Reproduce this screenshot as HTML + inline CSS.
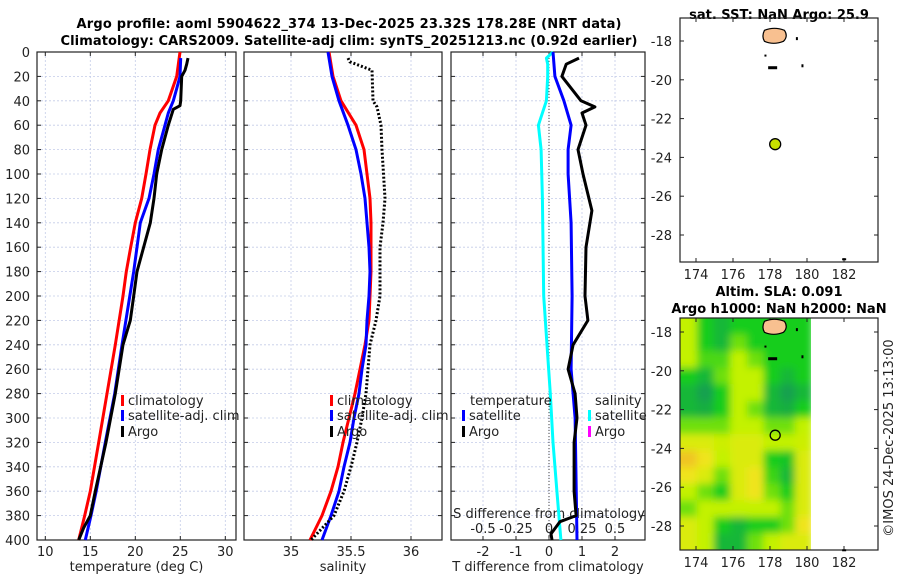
<!DOCTYPE html>
<html><head><meta charset="utf-8"><style>
body{margin:0;background:#fff;}
svg text{font-family:"DejaVu Sans","Liberation Sans",sans-serif;font-size:13px;fill:#222;}
.b{font-weight:bold;fill:#000;font-size:13px;}
</style></head><body>
<svg id="c" width="900" height="580" viewBox="0 0 900 580" xmlns="http://www.w3.org/2000/svg">
<defs><filter id="bl" x="-10%" y="-10%" width="120%" height="120%"><feGaussianBlur stdDeviation="4"/></filter>
<clipPath id="hc"><rect x="680" y="318" width="131" height="232"/></clipPath></defs>
<text class="b" x="349" y="28" text-anchor="middle" textLength="545">Argo profile: aoml 5904622_374 13-Dec-2025 23.32S 178.28E (NRT data)</text>
<text class="b" x="349" y="45" text-anchor="middle" textLength="577">Climatology: CARS2009. Satellite-adj clim: synTS_20251213.nc (0.92d earlier)</text>
<text class="b" x="779" y="19" text-anchor="middle">sat. SST: NaN Argo: 25.9</text>
<text class="b" x="779" y="296" text-anchor="middle">Altim. SLA: 0.091</text>
<text class="b" x="779" y="313" text-anchor="middle">Argo h1000: NaN h2000: NaN</text>
<text x="893" y="438" text-anchor="middle" transform="rotate(-90 893 438)">©IMOS 24-Dec-2025 13:13:00</text>
<g id="g"></g>
</svg>
<script>
const depthTicks=[0,20,40,60,80,100,120,140,160,180,200,220,240,260,280,300,320,340,360,380,400];
const tTicks=[10,15,20,25,30];
const sTicks=[35,35.5,36];
const dtTicks=[-2,-1,0,1,2];
const dsTicks=[-0.5,-0.25,0,0.25,0.5];
const dsLabels=["-0.5","-0.25","0","0.25","0.5"];
// temperature profiles
const tClimD=[0,20,40,50,60,80,100,120,140,160,180,200,240,280,320,360,380,400];
const tClim=[24.97,24.6,23.67,22.74,22.19,21.63,21.19,20.71,20.0,19.49,19.0,18.63,17.78,16.86,15.93,15.0,14.38,13.71];
const tSatD=[5,20,30,40,50,60,80,100,120,140,180,240,280,320,360,380,400];
const tSat=[25.04,24.97,24.6,24.22,23.67,23.3,22.56,22.08,21.52,20.56,19.82,18.52,17.71,16.67,15.66,15.08,14.44];
const tArgoD=[5,10,15,20,40,44,47,60,80,100,120,140,180,200,220,240,280,320,360,380,390,400];
const tArgo=[25.86,25.71,25.52,25.16,25.04,24.97,24.22,23.67,22.93,22.38,22.08,21.67,20.19,19.82,19.44,18.63,17.78,16.74,15.55,15.0,14.27,13.71];
// salinity profiles
const sClimD=[0,20,40,60,80,100,120,140,180,220,240,260,280,300,320,340,360,380,400];
const sClim=[35.317,35.35,35.417,35.542,35.608,35.633,35.658,35.667,35.667,35.65,35.617,35.575,35.533,35.483,35.433,35.392,35.333,35.258,35.158];
const sSatD=[0,20,40,60,80,100,120,140,160,180,200,220,240,260,280,300,320,340,360,380,400];
const sSat=[35.308,35.342,35.4,35.475,35.542,35.583,35.617,35.633,35.65,35.658,35.65,35.633,35.625,35.592,35.567,35.525,35.492,35.442,35.4,35.333,35.258];
const sArgoD=[5,8,15,40,45,60,80,120,140,160,200,220,240,260,280,300,320,340,360,380,400];
const sArgo=[35.475,35.49,35.675,35.683,35.717,35.75,35.758,35.783,35.767,35.742,35.742,35.708,35.658,35.642,35.625,35.592,35.55,35.5,35.442,35.358,35.167];
// differences
const dsSatD=[0,5,10,20,40,60,80,120,200,280,320,360,400];
const dsSat=[0.03,-0.02,-0.01,-0.01,-0.02,-0.08,-0.06,-0.05,-0.04,0.01,0.03,0.06,0.09];
const dtSatD=[0,20,40,60,80,100,140,200,260,300,400];
const dtSat=[0.12,0.18,0.45,0.67,0.58,0.58,0.67,0.7,0.67,0.79,0.85];
const dtArgoD=[5,10,20,40,45,50,60,80,100,130,160,200,220,240,260,280,300,320,360,380,385,395,400];
const dtArgo=[0.91,0.52,0.39,0.97,1.39,1.0,1.12,0.88,1.03,1.3,1.12,1.09,1.18,0.73,0.58,0.79,0.85,0.76,0.76,0.82,0.33,0.06,0.09];
// SLA heatmap (0 dark green .. 4 orange)
const slaLat=[-17.7,-18.56,-19.41,-20.27,-21.12,-21.98,-22.83,-23.69,-24.54,-25.4,-26.25,-27.1,-27.96,-28.8];
const slaLon=[173.6,174.5,175.4,176.3,177.2,178.1,179.0,179.8];
const slaVals=[
[2,1,0.5,1,1,1,1,1],[2,1,0.5,1.5,1,1,1,1],[2,1.3,1.3,2,1.5,1,1,1],[1,0.5,1.5,2,2,1,0.5,1],
[0.5,0,1,2,2,0.5,0,0.5],[0.5,0.3,1,2,1.5,0.5,0.3,1],[1.5,1.5,1.5,2,2,1.5,1.5,2],[2.5,2.5,2.2,2.5,2.5,2,2,2.2],
[3.5,3,2,2.5,2.5,1,0.8,2.5],[3,2.5,1.5,2.5,3,1.2,0.5,2.5],[2,1.5,1,2.5,3,1.5,1,2.5],[1.5,2,2,2,2,2,1.5,2.5],
[2.5,2,1,0.5,1,1,1.5,3],[2.5,2,0.5,0.5,1.5,2,2.5,2.5]];
const argoLon=[178.28], argoLat=[-23.32];
const lonTicks=[174,176,178,180,182], latTicks=[-18,-20,-22,-24,-26,-28];

const NS="http://www.w3.org/2000/svg", G=document.getElementById('g');
function mk(t,a,p){const e=document.createElementNS(NS,t);for(const k in a)e.setAttribute(k,a[k]);(p||G).appendChild(e);return e;}
const Y0=52,Y1=540, yD=d=>Y0+d*(Y1-Y0)/400;
function lin(d0,d1,r0,r1){return v=>r0+(v-d0)*(r1-r0)/(d1-d0);}
const xT=lin(10,30,45.3,225.3), xS=lin(35,36,291,411), xDT=lin(-2,2,483,615), xDS=lin(-0.5,0.5,483,615);
const panels=[{x0:37,x1:236,f:xT,ticks:tTicks,lab:"temperature (deg C)",n:'temperature-panel'},
{x0:244,x1:442,f:xS,ticks:sTicks,lab:"salinity",n:'salinity-panel'},
{x0:451,x1:645,f:xDT,ticks:dtTicks,lab:"T difference from climatology",n:'difference-panel'}];
panels.forEach((p,i)=>{
 const g=mk('g',{});
 p.ticks.forEach(t=>{const x=p.f(t);const l=mk('line',{x1:x,x2:x,y1:Y0,y2:Y1,stroke:'#c4cce8','stroke-dasharray':'2,2','stroke-width':0.8},g);
  
  mk('line',{x1:x,x2:x,y1:Y1,y2:Y1-4,stroke:'#222'},g);mk('line',{x1:x,x2:x,y1:Y0,y2:Y0+4,stroke:'#222'},g);
  const tx=mk('text',{x:x,y:556,'text-anchor':'middle'},g);tx.textContent=String(t);
  });
 depthTicks.forEach(d=>{const y=yD(d);mk('line',{x1:p.x0,x2:p.x1,y1:y,y2:y,stroke:'#c4cce8','stroke-dasharray':'2,2','stroke-width':0.8},g);
  mk('line',{x1:p.x0,x2:p.x0+4,y1:y,y2:y,stroke:'#222'},g);mk('line',{x1:p.x1,x2:p.x1-4,y1:y,y2:y,stroke:'#222'},g);
  if(i==0){const tx=mk('text',{x:30,y:y+5,'text-anchor':'end'},g);tx.textContent=String(d);
   }});
 const r=mk('rect',{x:p.x0,y:Y0,width:p.x1-p.x0,height:Y1-Y0,fill:'none',stroke:'#222','stroke-width':1.2},g);
 
 const xl=mk('text',{x:(p.x0+p.x1)/2,y:571,'text-anchor':'middle'},g);xl.textContent=p.lab;
 
});
mk('line',{x1:xDT(0),x2:xDT(0),y1:Y0,y2:Y1,stroke:'#444','stroke-dasharray':'1,2'});
const sd=mk('text',{x:549,y:518,'text-anchor':'middle'});sd.textContent="S difference from climatology";

dsTicks.forEach((t,k)=>{const tx=mk('text',{x:xDS(t),y:533,'text-anchor':'middle'});tx.textContent=dsLabels[k];
 });
function line(D,V,f,col,name,dash){const pts=D.map((d,k)=>f(V[k]).toFixed(1)+','+yD(d).toFixed(1)).join(' ');
 const a={points:pts,fill:'none',stroke:col,'stroke-width':3,'stroke-linejoin':'round'};if(dash)a['stroke-dasharray']=dash;
 const e=mk('polyline',a);}
line(tClimD,tClim,xT,'#f00','temp-climatology-line');
line(tSatD,tSat,xT,'#00f','temp-satellite-line');
line(tArgoD,tArgo,xT,'#000','temp-argo-line');
line(sClimD,sClim,xS,'#f00','sal-climatology-line');
line(sSatD,sSat,xS,'#00f','sal-satellite-line');
line(sArgoD,sArgo,xS,'#000','sal-argo-line','2,2');
line(dsSatD,dsSat,xDS,'#0ff','sal-diff-satellite-line');
line(dtSatD,dtSat,xDT,'#00f','temp-diff-satellite-line');
line(dtArgoD,dtArgo,xDT,'#000','temp-diff-argo-line');
function leg(x,y,col,txt,name){mk('rect',{x:x,y:y-10,width:3,height:11,fill:col});
 const t=mk('text',{x:x+7,y:y});t.textContent=txt;}
leg(121,405,'#f00','climatology','legend-climatology');leg(121,420,'#00f','satellite-adj. clim','legend-satellite');leg(121,436,'#000','Argo','legend-argo');
leg(330,405,'#f00','climatology','legend-s-climatology');leg(330,420,'#00f','satellite-adj. clim','legend-s-satellite');leg(330,436,'#000','Argo','legend-s-argo');
const h1=mk('text',{x:470,y:405});h1.textContent='temperature';
const h2=mk('text',{x:595,y:405});h2.textContent='salinity';
leg(462,420,'#00f','satellite','legend-d-temp-satellite');leg(462,436,'#000','Argo','legend-d-temp-argo');
leg(588,420,'#0ff','satellite','legend-d-sal-satellite');leg(588,436,'#f0f','Argo','legend-d-sal-argo');
// maps
const mx=lin(174,182,696,844);
function mapAxes(y0,y1,ly,name){const my=lin(-18,-28,ly,ly+194);
 const g=mk('g',{});
 lonTicks.forEach(t=>{const x=mx(t);mk('line',{x1:x,x2:x,y1:y1,y2:y1-4,stroke:'#222'},g);mk('line',{x1:x,x2:x,y1:y0,y2:y0+4,stroke:'#222'},g);
  const tx=mk('text',{x:x,y:y1+17,'text-anchor':'middle'},g);tx.textContent=String(t);});
 latTicks.forEach(t=>{const y=my(t);mk('line',{x1:680,x2:684,y1:y,y2:y,stroke:'#222'},g);mk('line',{x1:878,x2:874,y1:y,y2:y,stroke:'#222'},g);
  const tx=mk('text',{x:672,y:y+5,'text-anchor':'end'},g);tx.textContent=String(t);});
 return my;}
const my2=lin(-18,-28,332,526);
const hg=mk('g',{'clip-path':'url(#hc)'});
const hb=mk('g',{filter:'url(#bl)'},hg);
const stops=[[20,160,80],[25,205,30],[195,242,0],[240,228,30],[240,165,40]];
function col(v){const i=Math.min(3,Math.floor(v));const f=Math.min(1,v-i);
 const c=stops[i].map((a,k)=>Math.round(a+(stops[i+1][k]-a)*f));return 'rgb('+c.join(',')+')';}
slaLat.forEach((la,r)=>slaLon.forEach((lo,c)=>{
 let x0=mx(lo-0.45),x1=mx(lo+0.45),y0=my2(la+0.43),y1=my2(la-0.43);
 if(c==0)x0-=12; if(c==slaLon.length-1)x1+=1; if(r==0)y0-=12; if(r==slaLat.length-1)y1+=12;
 const e=mk('rect',{x:x0,y:y0,width:x1-x0+0.5,height:y1-y0+0.5,fill:col(slaVals[r][c])},hb);
 }));
const my1=mapAxes(18,262,41,'sst-map-axes');
mapAxes(318,550,332,'sla-map-axes');
mk('rect',{x:680,y:18,width:198,height:244,fill:'none',stroke:'#222','stroke-width':1.2});
mk('rect',{x:680,y:318,width:198,height:232,fill:'none',stroke:'#222','stroke-width':1.2});
[[my1],[my2]].forEach(([my],k)=>{
 const l=mk('path',{d:`M${mx(177.7)},${my(-17.45)} q10,-4 20,0 q4,6 -1,11 q-10,4 -19,0 q-3,-5 0,-11z`,fill:'#f8c090',stroke:'#000','stroke-width':1.2});
 
 mk('rect',{x:mx(177.9),y:my(-19.3),width:9,height:3,fill:'#000'});
 mk('rect',{x:mx(179.4),y:my(-17.8),width:2,height:3,fill:'#000'});
 mk('rect',{x:mx(179.7),y:my(-19.2),width:2,height:3,fill:'#000'});
 mk('rect',{x:mx(177.7),y:my(-18.7),width:2,height:2,fill:'#000'});
 mk('rect',{x:mx(181.9),y:my(-29.2),width:4,height:2,fill:'#000'});
 const c=mk('circle',{cx:mx(argoLon[0]),cy:my(argoLat[0]),r:k==0?5.5:5,fill:k==0?'#c8e000':'none',stroke:'#000','stroke-width':1.3});
 });
</script>
</body></html>
